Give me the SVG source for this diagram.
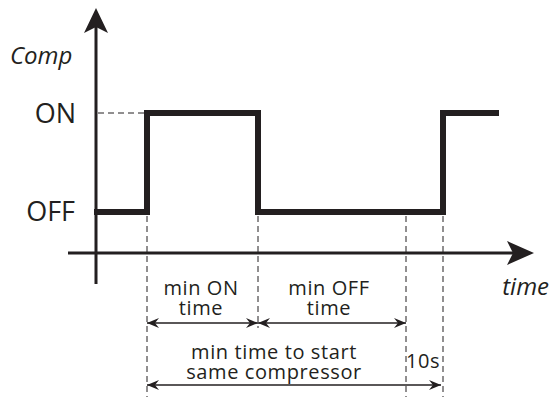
<svg xmlns="http://www.w3.org/2000/svg" width="554" height="397" viewBox="0 0 554 397">
<style>
.t{font-family:"Open Sans","Noto Sans",sans-serif;fill:#231f20}
.lb{font-size:20px;letter-spacing:0.6px;text-anchor:middle}
.it{font-style:italic}
.dash{stroke:#231f20;stroke-width:1;stroke-dasharray:6,4;fill:none}
.dim{stroke:#231f20;stroke-width:1.4;fill:none}
</style>
<defs>
<marker id="dh" viewBox="0 0 12 10" refX="12" refY="5" markerWidth="12" markerHeight="10" markerUnits="userSpaceOnUse" orient="auto-start-reverse">
<path d="M0,0 L12,5 L0,10 L4,5 Z" fill="#231f20"/>
</marker>
</defs>
<g id="axes">
<line x1="96" y1="20" x2="96" y2="284" stroke="#231f20" stroke-width="3"/>
<path d="M96,8 L108,33 L96,27 L84,33 Z" fill="#231f20"/>
<line x1="68" y1="253" x2="520" y2="253" stroke="#231f20" stroke-width="3"/>
<path d="M534,253 L507,265 L513,253 L507,241 Z" fill="#231f20"/>
</g>
<g id="waveform">
<polyline points="94,212 147,212 147,113 258,113 258,212 443,212 443,113 499,113" fill="none" stroke="#231f20" stroke-width="6" stroke-linejoin="miter"/>
</g>
<g id="guides">
<line class="dash" x1="98" y1="113" x2="144" y2="113"/>
<line class="dash" x1="147" y1="216" x2="147" y2="397"/>
<line class="dash" x1="258" y1="216" x2="258" y2="328"/>
<line class="dash" x1="406" y1="216" x2="406" y2="397"/>
<line class="dash" x1="443" y1="216" x2="443" y2="397"/>
</g>
<g id="connectors">
<line class="dim" x1="147" y1="323" x2="258" y2="323" marker-start="url(#dh)" marker-end="url(#dh)"/>
<line class="dim" x1="258" y1="323" x2="406" y2="323" marker-start="url(#dh)" marker-end="url(#dh)"/>
<line class="dim" x1="147" y1="385" x2="441" y2="385" marker-start="url(#dh)" marker-end="url(#dh)"/>
</g>
<g id="labels">
<text class="t it" x="10" y="64" font-size="24">Comp</text>
<text class="t" x="76" y="123" font-size="27" text-anchor="end">ON</text>
<text class="t" x="75" y="221" font-size="27" text-anchor="end">OFF</text>
<text class="t it" x="549" y="295" font-size="24" text-anchor="end">time</text>
<text class="t lb" x="201" y="295">min ON</text>
<text class="t lb" x="201" y="315">time</text>
<text class="t lb" x="329" y="295">min OFF</text>
<text class="t lb" x="329" y="315">time</text>
<text class="t lb" x="274" y="359">min time to start</text>
<text class="t lb" x="274" y="379">same compressor</text>
<text class="t lb" x="423" y="368">10s</text>
</g>
</svg>
